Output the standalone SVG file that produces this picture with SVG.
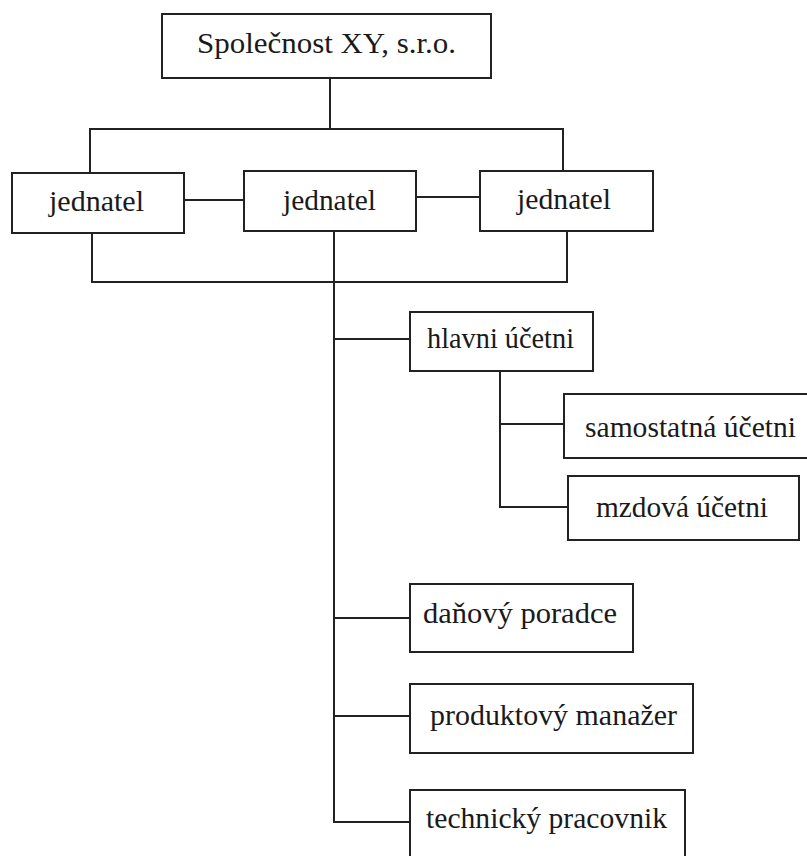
<svg xmlns="http://www.w3.org/2000/svg" width="807" height="856" viewBox="0 0 807 856">
<style>
.box{fill:#fff;stroke:#222;stroke-width:2}
.ln{fill:none;stroke:#222;stroke-width:2}
text{font-family:"Liberation Serif","Times New Roman",serif;font-size:30px;fill:#1a1a1a}
</style>
<rect x="0" y="0" width="807" height="856" fill="#fff"/>
<g id="connectors">
<path class="ln" d="M330,78 V129 M90,173 V129 H563 V171"/>
<path class="ln" d="M184,200 H244 M416,197 H480"/>
<path class="ln" d="M92,233 V282 H567 V231"/>
<path class="ln" d="M334,231 V822 H410"/>
<path class="ln" d="M334,339 H410 M334,618 H410 M334,716 H410"/>
<path class="ln" d="M500,371 V507 H568 M500,424 H564"/>
</g>
<g id="n-company"><rect class="box" x="162" y="14" width="329" height="64"/><text x="197" y="53" textLength="259" lengthAdjust="spacingAndGlyphs">Společnost XY, s.r.o.</text></g>
<g id="n-jednatel1"><rect class="box" x="12" y="173" width="172" height="60"/><text x="49" y="211" textLength="95" lengthAdjust="spacingAndGlyphs">jednatel</text></g>
<g id="n-jednatel2"><rect class="box" x="244" y="171" width="172" height="60"/><text x="283" y="210" textLength="93" lengthAdjust="spacingAndGlyphs">jednatel</text></g>
<g id="n-jednatel3"><rect class="box" x="480" y="171" width="173" height="60"/><text x="517" y="209" textLength="94" lengthAdjust="spacingAndGlyphs">jednatel</text></g>
<g id="n-hlavni"><rect class="box" x="410" y="312" width="183" height="59"/><text x="427" y="348" textLength="147" lengthAdjust="spacingAndGlyphs">hlavni účetni</text></g>
<g id="n-samostatna"><rect class="box" x="564" y="394" width="260" height="64"/><text x="585" y="437" textLength="211" lengthAdjust="spacingAndGlyphs">samostatná účetni</text></g>
<g id="n-mzdova"><rect class="box" x="568" y="476" width="231" height="64"/><text x="596" y="517" textLength="172" lengthAdjust="spacingAndGlyphs">mzdová účetni</text></g>
<g id="n-danovy"><rect class="box" x="410" y="584" width="223" height="68"/><text x="423" y="623" textLength="194" lengthAdjust="spacingAndGlyphs">daňový poradce</text></g>
<g id="n-produktovy"><rect class="box" x="410" y="684" width="283" height="69"/><text x="430" y="725" textLength="247" lengthAdjust="spacingAndGlyphs">produktový manažer</text></g>
<g id="n-technicky"><rect class="box" x="410" y="790" width="275" height="80"/><text x="426" y="828" textLength="241" lengthAdjust="spacingAndGlyphs">technický pracovnik</text></g>
</svg>
